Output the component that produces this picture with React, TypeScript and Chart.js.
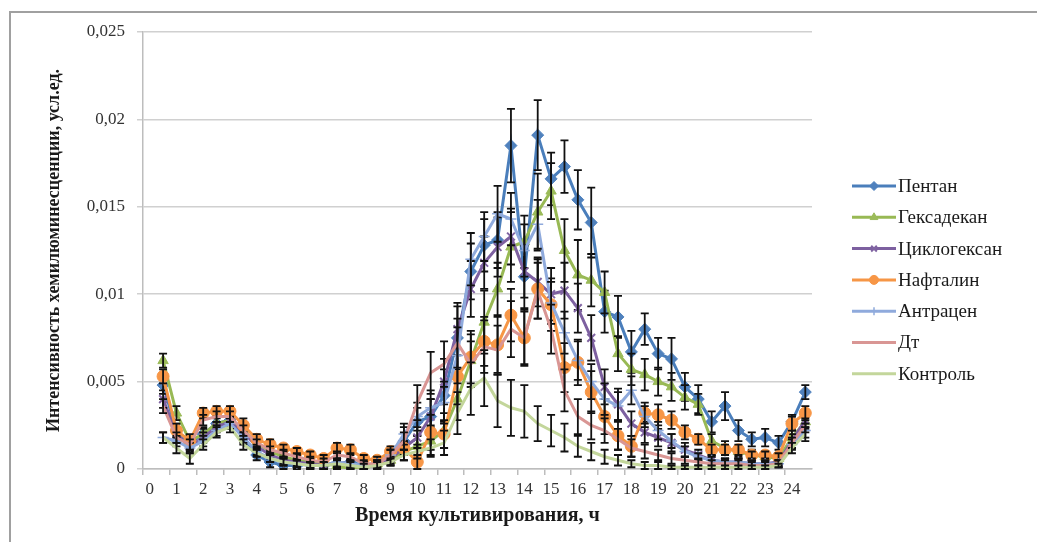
import React, { useEffect, useRef } from 'react';
import { Chart, registerables } from 'chart.js';
import { drawPoint } from 'chart.js/helpers';

Chart.register(...registerables);

// Time of cultivation, h (category axis, every half hour)
const hours = [
  '0', '0.5', '1', '1.5', '2', '2.5', '3', '3.5', '4', '4.5',
  '5', '5.5', '6', '6.5', '7', '7.5', '8', '8.5', '9', '9.5',
  '10', '10.5', '11', '11.5', '12', '12.5', '13', '13.5', '14', '14.5',
  '15', '15.5', '16', '16.5', '17', '17.5', '18', '18.5', '19', '19.5',
  '20', '20.5', '21', '21.5', '22', '22.5', '23', '23.5', '24', '24.5',
];

const seriesNames = ['Пентан', 'Гексадекан', 'Циклогексан', 'Нафталин', 'Антрацен', 'Дт', 'Контроль'];

const pentan = [null, 0.0048, 0.0022, 0.0015, 0.0020, 0.0026, 0.0028, 0.0018, 0.0008, 0.0004, 0.0002,
  0.0002, 0.0003, 0.0002, 0.0003, 0.0004, 0.0002, 0.0003, 0.0008, 0.0016, 0.0027,
  0.0030, 0.0042, 0.0075, 0.0113, 0.0128, 0.0131, 0.0185, 0.0110, 0.0191, 0.0166,
  0.0173, 0.0154, 0.0141, 0.0090, 0.0087, 0.0067, 0.0080, 0.0066, 0.0063, 0.0047,
  0.0040, 0.0027, 0.0036, 0.0022, 0.0017, 0.0018, 0.0015, 0.0027, 0.0044];
const pentanErr = [null, 0.0005, 0.0004, 0.0004, 0.0004, 0.0004, 0.0004, 0.0004, 0.0003, 0.0003, 0.0002,
  0.0002, 0.0002, 0.0002, 0.0002, 0.0002, 0.0002, 0.0002, 0.0004, 0.0008, 0.0008,
  0.0010, 0.0015, 0.0018, 0.0016, 0.0015, 0.0016, 0.0021, 0.0018, 0.0020, 0.0015,
  0.0015, 0.0017, 0.0020, 0.0012, 0.0012, 0.0012, 0.0009, 0.0009, 0.0012, 0.0008,
  0.0008, 0.0006, 0.0008, 0.0006, 0.0004, 0.0005, 0.0004, 0.0004, 0.0004];

const hexadecane = [null, 0.0062, 0.0032, 0.0016, 0.0020, 0.0026, 0.0028, 0.0022, 0.0015, 0.0010, 0.0007,
  0.0005, 0.0004, 0.0003, 0.0002, 0.0000, 0.0002, 0.0003, 0.0005, 0.0010, 0.0013,
  0.0016, 0.0022, 0.0040, 0.0062, 0.0084, 0.0103, 0.0127, 0.0130, 0.0147, 0.0159,
  0.0125, 0.0111, 0.0108, 0.0101, 0.0066, 0.0057, 0.0054, 0.0050, 0.0047, 0.0041,
  0.0037, 0.0016, 0.0012, 0.0010, 0.0008, 0.0007, 0.0006, 0.0018, 0.0027];
const hexadecaneErr = [null, 0.0004, 0.0004, 0.0003, 0.0003, 0.0003, 0.0003, 0.0003, 0.0003, 0.0002, 0.0002,
  0.0002, 0.0002, 0.0002, 0.0002, 0.0002, 0.0002, 0.0002, 0.0003, 0.0005, 0.0006,
  0.0008, 0.0010, 0.0012, 0.0015, 0.0018, 0.0015, 0.0020, 0.0015, 0.0022, 0.0016,
  0.0018, 0.0020, 0.0015, 0.0012, 0.0010, 0.0009, 0.0009, 0.0008, 0.0008, 0.0007,
  0.0006, 0.0004, 0.0004, 0.0003, 0.0003, 0.0003, 0.0003, 0.0004, 0.0004];

const cyclohexane = [null, 0.0040, 0.0020, 0.0013, 0.0018, 0.0024, 0.0027, 0.0021, 0.0013, 0.0008, 0.0005,
  0.0004, 0.0003, 0.0002, 0.0004, 0.0003, 0.0001, 0.0002, 0.0006, 0.0012, 0.0018,
  0.0030, 0.0050, 0.0080, 0.0103, 0.0118, 0.0127, 0.0133, 0.0113, 0.0107, 0.0100,
  0.0102, 0.0092, 0.0075, 0.0047, 0.0037, 0.0026, 0.0021, 0.0018, 0.0015, 0.0011,
  0.0008, 0.0005, 0.0004, 0.0004, 0.0003, 0.0003, 0.0004, 0.0016, 0.0028];
const cyclohexaneErr = [null, 0.0005, 0.0004, 0.0003, 0.0003, 0.0003, 0.0003, 0.0003, 0.0003, 0.0002, 0.0002,
  0.0002, 0.0002, 0.0002, 0.0002, 0.0002, 0.0002, 0.0002, 0.0003, 0.0004, 0.0006,
  0.0010, 0.0013, 0.0015, 0.0016, 0.0015, 0.0017, 0.0016, 0.0015, 0.0014, 0.0015,
  0.0016, 0.0014, 0.0013, 0.0010, 0.0009, 0.0007, 0.0006, 0.0005, 0.0005, 0.0004,
  0.0003, 0.0003, 0.0002, 0.0002, 0.0002, 0.0002, 0.0002, 0.0004, 0.0004];

const naphthalene = [null, 0.0053, 0.0022, 0.0016, 0.0032, 0.0033, 0.0033, 0.0025, 0.0017, 0.0014, 0.0012,
  0.0010, 0.0008, 0.0006, 0.0012, 0.0011, 0.0006, 0.0005, 0.0010, 0.0012, 0.0004,
  0.0021, 0.0020, 0.0053, 0.0064, 0.0073, 0.0071, 0.0088, 0.0075, 0.0103, 0.0094,
  0.0058, 0.0061, 0.0044, 0.0030, 0.0019, 0.0013, 0.0032, 0.0031, 0.0028, 0.0021,
  0.0017, 0.0011, 0.0011, 0.0011, 0.0008, 0.0008, 0.0007, 0.0026, 0.0032];
const naphthaleneErr = [null, 0.0004, 0.0004, 0.0004, 0.0003, 0.0003, 0.0003, 0.0004, 0.0003, 0.0003, 0.0002,
  0.0002, 0.0002, 0.0002, 0.0003, 0.0003, 0.0002, 0.0002, 0.0003, 0.0004, 0.0004,
  0.0010, 0.0008, 0.0016, 0.0015, 0.0014, 0.0016, 0.0015, 0.0016, 0.0017, 0.0015,
  0.0014, 0.0013, 0.0012, 0.0010, 0.0008, 0.0006, 0.0006, 0.0006, 0.0005, 0.0004,
  0.0003, 0.0003, 0.0003, 0.0003, 0.0002, 0.0002, 0.0002, 0.0004, 0.0004];

const anthracene = [null, 0.0018, 0.0016, 0.0012, 0.0016, 0.0022, 0.0026, 0.0018, 0.0010, 0.0006, 0.0004,
  0.0003, 0.0002, 0.0002, 0.0004, 0.0003, 0.0002, 0.0003, 0.0008, 0.0020, 0.0030,
  0.0035, 0.0038, 0.0065, 0.0120, 0.0133, 0.0146, 0.0143, 0.0125, 0.0140, 0.0095,
  0.0078, 0.0062, 0.0050, 0.0040, 0.0036, 0.0045, 0.0030, 0.0022, 0.0016, 0.0010,
  0.0007, 0.0005, 0.0004, 0.0004, 0.0003, 0.0003, 0.0003, 0.0014, 0.0022];
const anthraceneErr = [null, 0.0003, 0.0003, 0.0003, 0.0003, 0.0003, 0.0003, 0.0003, 0.0002, 0.0002, 0.0002,
  0.0002, 0.0002, 0.0002, 0.0002, 0.0002, 0.0002, 0.0002, 0.0003, 0.0006, 0.0008,
  0.0010, 0.0012, 0.0016, 0.0015, 0.0014, 0.0016, 0.0015, 0.0015, 0.0014, 0.0012,
  0.0012, 0.0011, 0.0010, 0.0009, 0.0008, 0.0008, 0.0006, 0.0005, 0.0004, 0.0003,
  0.0002, 0.0002, 0.0002, 0.0002, 0.0002, 0.0002, 0.0002, 0.0003, 0.0004];

const dt = [null, 0.0036, 0.0018, 0.0014, 0.0028, 0.0030, 0.0030, 0.0022, 0.0015, 0.0011, 0.0009,
  0.0007, 0.0005, 0.0004, 0.0008, 0.0007, 0.0003, 0.0003, 0.0008, 0.0016, 0.0038,
  0.0055, 0.0060, 0.0072, 0.0060, 0.0070, 0.0068, 0.0080, 0.0075, 0.0102, 0.0080,
  0.0045, 0.0030, 0.0025, 0.0022, 0.0017, 0.0012, 0.0010, 0.0008, 0.0006, 0.0005,
  0.0004, 0.0003, 0.0003, 0.0003, 0.0002, 0.0002, 0.0003, 0.0015, 0.0025];
const dtErr = [null, 0.0004, 0.0003, 0.0003, 0.0003, 0.0003, 0.0003, 0.0003, 0.0002, 0.0002, 0.0002,
  0.0002, 0.0002, 0.0002, 0.0002, 0.0002, 0.0002, 0.0002, 0.0003, 0.0005, 0.0010,
  0.0012, 0.0013, 0.0014, 0.0013, 0.0015, 0.0014, 0.0016, 0.0015, 0.0016, 0.0014,
  0.0012, 0.0010, 0.0008, 0.0007, 0.0006, 0.0005, 0.0004, 0.0003, 0.0003, 0.0002,
  0.0002, 0.0002, 0.0002, 0.0002, 0.0002, 0.0002, 0.0002, 0.0003, 0.0004];

const control = [null, 0.0018, 0.0012, 0.0006, 0.0014, 0.0021, 0.0024, 0.0014, 0.0009, 0.0006, 0.0004,
  0.0003, 0.0002, 0.0002, 0.0003, 0.0002, 0.0001, 0.0002, 0.0004, 0.0008, 0.0010,
  0.0012, 0.0015, 0.0032, 0.0046, 0.0052, 0.0039, 0.0035, 0.0033, 0.0026, 0.0022,
  0.0018, 0.0013, 0.0010, 0.0007, 0.0005, 0.0003, 0.0002, 0.0002, 0.0001, 0.0001,
  0.0001, 0.0001, 0.0001, 0.0001, 0.0001, 0.0001, 0.0002, 0.0012, 0.0020];
const controlErr = [null, 0.0003, 0.0003, 0.0003, 0.0003, 0.0003, 0.0003, 0.0003, 0.0002, 0.0002, 0.0002,
  0.0002, 0.0002, 0.0002, 0.0002, 0.0002, 0.0002, 0.0002, 0.0002, 0.0003, 0.0004,
  0.0005, 0.0007, 0.0012, 0.0015, 0.0016, 0.0015, 0.0016, 0.0015, 0.0010, 0.0009,
  0.0008, 0.0006, 0.0005, 0.0004, 0.0003, 0.0002, 0.0002, 0.0002, 0.0001, 0.0001,
  0.0001, 0.0001, 0.0001, 0.0001, 0.0001, 0.0001, 0.0001, 0.0003, 0.0004];

const yTickValues = [0, 0.005, 0.01, 0.015, 0.02, 0.025];

const FONT = "'Liberation Serif', 'Times New Roman', serif";

const errorBarPlugin = {
  id: 'errorBars',
  afterDatasetDraw(chart: any, args: any) {
    const ds = chart.data.datasets[args.index];
    const errs = ds.errors;
    if (!errs) return;
    const yScale = chart.scales.y;
    const ctx = chart.ctx;
    ctx.save();
    ctx.strokeStyle = '#111';
    ctx.lineWidth = 1.8;
    args.meta.data.forEach((pt: any, i: number) => {
      const v = ds.data[i];
      const e = errs[i];
      if (v == null || e == null) return;
      const x = pt.x;
      const yt = yScale.getPixelForValue(v + e);
      const yb = yScale.getPixelForValue(Math.max(0, v - e));
      ctx.beginPath();
      ctx.moveTo(x, yt);
      ctx.lineTo(x, yb);
      ctx.moveTo(x - 4, yt);
      ctx.lineTo(x + 4, yt);
      ctx.moveTo(x - 4, yb);
      ctx.lineTo(x + 4, yb);
      ctx.stroke();
    });
    ctx.restore();
  },
};

const sideLegendPlugin = {
  id: 'sideLegend',
  afterDraw(chart: any) {
    const ctx = chart.ctx;
    const area = chart.chartArea;
    const x0 = area.right + 40;
    const top = area.top + 154;
    const gap = 31.3;
    ctx.save();
    chart.data.datasets.forEach((ds: any, i: number) => {
      const y = top + i * gap;
      ctx.strokeStyle = ds.borderColor;
      ctx.lineWidth = 3;
      ctx.beginPath();
      ctx.moveTo(x0, y);
      ctx.lineTo(x0 + 44, y);
      ctx.stroke();
      if (ds.pointRadius > 0) {
        ctx.fillStyle = ds.pointBackgroundColor;
        ctx.strokeStyle = ds.pointBorderColor;
        ctx.lineWidth = ds.pointBorderWidth;
        drawPoint(ctx, { pointStyle: ds.pointStyle, radius: ds.pointRadius - 1.5, rotation: 0, borderWidth: ds.pointBorderWidth }, x0 + 22, y);
      }
      ctx.fillStyle = '#1a1a1a';
      ctx.font = `19px ${FONT}`;
      ctx.textBaseline = 'middle';
      ctx.textAlign = 'left';
      ctx.fillText(ds.label, x0 + 46, y + 1);
    });
    ctx.restore();
  },
};

function makeSeries(label: string, data: any[], errors: any[], color: string, markerColor: string, pointStyle: string, radius: number, pbw: number) {
  return {
    label,
    data,
    errors,
    borderColor: color,
    backgroundColor: markerColor,
    pointBackgroundColor: markerColor,
    pointBorderColor: markerColor,
    pointBorderWidth: pbw,
    pointStyle,
    pointRadius: radius,
    borderWidth: 3,
    tension: 0,
    spanGaps: false,
  };
}

export default function App() {
  const ref = useRef<HTMLCanvasElement | null>(null);

  useEffect(() => {
    if (!ref.current) return;
    const datasets: any[] = [
      makeSeries(seriesNames[0], pentan, pentanErr, '#4A7EBB', '#4F81BD', 'rectRot', 6, 1),
      makeSeries(seriesNames[1], hexadecane, hexadecaneErr, '#98B954', '#9BBB59', 'triangle', 6, 1),
      makeSeries(seriesNames[2], cyclohexane, cyclohexaneErr, '#7D60A0', '#8064A2', 'crossRot', 5.5, 2),
      makeSeries(seriesNames[3], naphthalene, naphthaleneErr, '#F69646', '#F79646', 'circle', 6, 1),
      makeSeries(seriesNames[4], anthracene, anthraceneErr, '#8FAADC', '#8FAADC', 'cross', 5.5, 1.5),
      makeSeries(seriesNames[5], dt, dtErr, '#D99694', '#D99694', 'circle', 0, 1),
      makeSeries(seriesNames[6], control, controlErr, '#C3D69B', '#C3D69B', 'circle', 0, 1),
    ];
    datasets.forEach((d, i) => { d.order = -i; });

    const chart = new Chart(ref.current, {
      type: 'line',
      data: { labels: hours, datasets },
      plugins: [errorBarPlugin, sideLegendPlugin],
      options: {
        animation: false,
        responsive: false,
        devicePixelRatio: 1,
        layout: { padding: { left: 44, top: 32, right: 225, bottom: 14 } },
        plugins: { legend: { display: false }, tooltip: { enabled: false } },
        scales: {
          x: {
            type: 'category',
            offset: true,
            afterFit: (scale: any) => { scale.height = 59; },
            grid: {
              offset: true,
              drawOnChartArea: false,
              drawTicks: true,
              tickLength: 6,
              lineWidth: 1.5,
              color: (c: any) => (c.index % 2 === 0 ? '#bdbdbd' : 'rgba(0,0,0,0)'),
            },
            border: { display: true, color: '#bdbdbd', width: 1.5 },
            ticks: {
              autoSkip: false,
              maxRotation: 0,
              minRotation: 0,
              padding: 4,
              color: '#333',
              font: { family: FONT, size: 17 },
              callback: (_v: any, idx: number) => (idx % 2 === 0 ? hours[idx] : ''),
            },
            title: {
              display: true,
              text: 'Время культивирования, ч',
              color: '#1a1a1a',
              font: { family: FONT, size: 20, weight: 'bold' },
              padding: { top: 0, bottom: 0 },
            },
          },
          y: {
            min: 0,
            max: 0.025,
            afterFit: (scale: any) => { scale.width = 99; },
            afterBuildTicks: (scale: any) => { scale.ticks = yTickValues.map((v) => ({ value: v })); },
            grid: { color: '#d0d0d0', lineWidth: 1.5, tickLength: 6, drawTicks: true },
            border: { display: true, color: '#bdbdbd', width: 1.5 },
            ticks: {
              padding: 12,
              color: '#333',
              font: { family: FONT, size: 17 },
              callback: (v: any) => (v === 0 ? '0' : String(Number(Number(v).toFixed(3))).replace('.', ',')),
            },
            title: {
              display: true,
              text: 'Интенсивность хемилюминесценции, усл.ед.',
              color: '#1a1a1a',
              font: { family: FONT, size: 18, weight: 'bold' },
              padding: { top: 0, bottom: 0 },
            },
          },
        },
      } as any,
    });
    return () => chart.destroy();
  }, []);

  return (
    <div style={{ position: 'absolute', left: 0, top: 0, width: 1037, height: 542, background: '#fff', overflow: 'hidden' }}>
      <div
        style={{
          position: 'absolute', left: 9, top: 11, width: 1040, height: 540,
          borderTop: '2px solid #a0a0a0', borderLeft: '2px solid #a0a0a0',
        }}
      />
      <canvas ref={ref} width={1037} height={542} style={{ position: 'absolute', left: 0, top: 0 }} />
    </div>
  );
}
